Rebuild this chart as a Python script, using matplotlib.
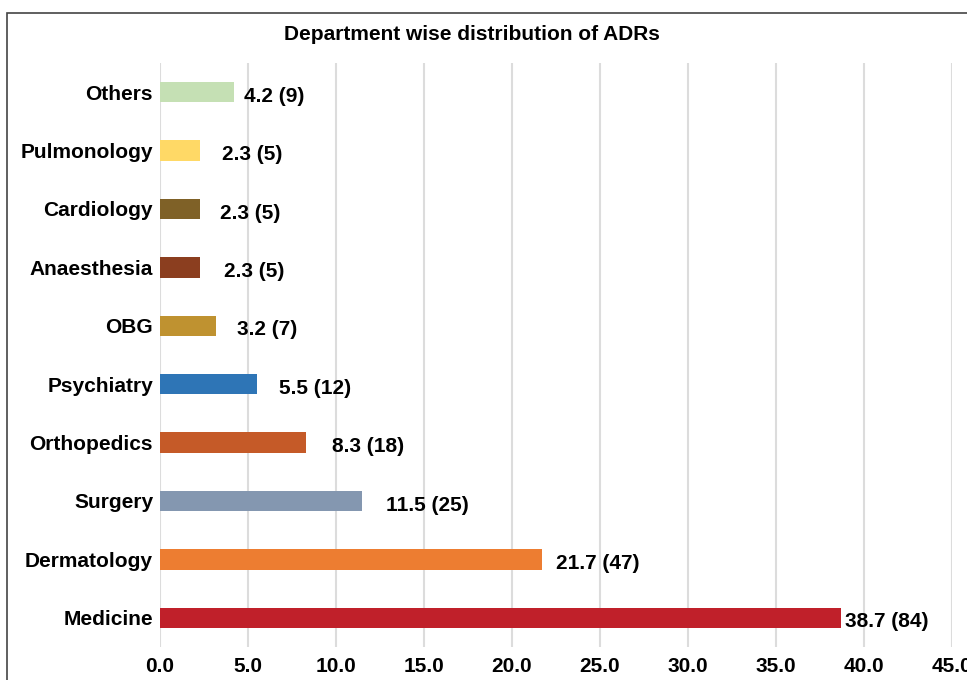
import matplotlib.pyplot as plt
from matplotlib.patches import Rectangle

plt.rcParams["font.family"] = ["Liberation Sans", "DejaVu Sans"]
plt.rcParams["font.weight"] = "bold"

# departments, bottom to top
departments = ["Medicine", "Dermatology", "Surgery", "Orthopedics", "Psychiatry",
               "OBG", "Anaesthesia", "Cardiology", "Pulmonology", "Others"]
percent = [38.7, 21.7, 11.5, 8.3, 5.5, 3.2, 2.3, 2.3, 2.3, 4.2]
counts = [84, 47, 25, 18, 12, 7, 5, 5, 5, 9]
colors = ["#c0202a", "#ed7d31", "#8497b0", "#c55a28", "#2e75b6",
          "#bf9230", "#8b3e1f", "#7f6127", "#ffd966", "#c5e0b4"]
xticks = [0, 5, 10, 15, 20, 25, 30, 35, 40, 45]

# label gaps (pixels) to the right of each bar
label_gap = [4, 14, 24, 26, 22, 21, 24, 20, 22, 10]

FS = 15

fig = plt.figure(figsize=(9.67, 6.8), dpi=100)

# outer frame
fig.patches.append(Rectangle((7 / 967, -0.05), 1.1, (680 - 13) / 680 + 0.05,
                             transform=fig.transFigure, fill=False,
                             edgecolor="#444444", linewidth=1.2))

ax = fig.add_axes([160 / 967, 33 / 680, 792 / 967, 584 / 680])
ypos = list(range(len(departments)))
ax.barh(ypos, percent, height=0.35, color=colors, zorder=3)

for y, p, c, g in zip(ypos, percent, counts, label_gap):
    ax.annotate(f"{p} ({c})", xy=(p, y), xytext=(g * 0.72, -3),
                textcoords="offset points", ha="left", va="center",
                fontsize=FS, fontweight="bold")

ax.set_xlim(0, 45)
ax.set_ylim(-0.5, len(departments) - 0.5)
ax.set_xticks(xticks)
ax.set_xticklabels([f"{t:.1f}" for t in xticks], fontsize=FS, fontweight="bold")
ax.set_yticks(ypos)
ax.set_yticklabels(departments, fontsize=FS, fontweight="bold")
ax.tick_params(axis="both", length=0)
ax.tick_params(axis="x", pad=7)
ax.tick_params(axis="y", pad=5)
ax.grid(axis="x", color="#dcdcdc", linewidth=1.5, zorder=0)
for s in ax.spines.values():
    s.set_visible(False)

fig.text(472 / 967, 1 - 35 / 680, "Department wise distribution of ADRs",
         ha="center", va="center", fontsize=FS, fontweight="bold")

fig.savefig("out.png", dpi=100)
